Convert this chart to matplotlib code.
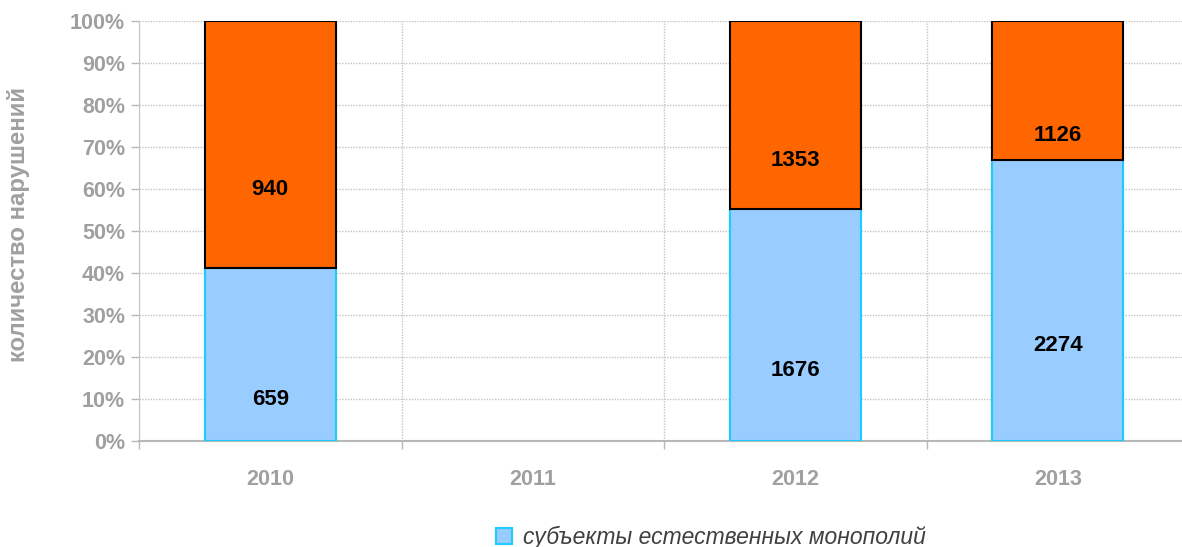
import matplotlib.pyplot as plt
from matplotlib.patches import Patch
from matplotlib.ticker import FixedLocator, PercentFormatter

plt.rcParams["font.family"] = ["Liberation Sans", "DejaVu Sans"]

years = ["2010", "2011", "2012", "2013"]
monopolies = [659, 0, 1676, 2274]
others = [940, 0, 1353, 1126]
legend_label = "субъекты естественных монополий"
y_label = "количество нарушений"

grey = "#A0A0A0"
blue = "#99CCFF"
blue_edge = "#1ACCFF"
orange = "#FF6600"

totals = [a + b for a, b in zip(monopolies, others)]
share_blue = [a / t * 100 if t else 0 for a, t in zip(monopolies, totals)]
share_orange = [b / t * 100 if t else 0 for b, t in zip(others, totals)]

fig = plt.figure(figsize=(11.82, 5.47), dpi=100)
ax = fig.add_axes([139 / 1182, 106 / 547, 1050 / 1182, 420 / 547])

x = list(range(len(years)))
for i in x:
    if totals[i] == 0:
        continue
    ax.bar(i, share_blue[i], width=0.5, color=blue, edgecolor=blue_edge,
           linewidth=1.5, zorder=3)
    ax.bar(i, share_orange[i], width=0.5, bottom=share_blue[i], color=orange,
           edgecolor="black", linewidth=1.5, zorder=3)
    # labels sit a bit below the segment centre, as in the original
    ax.text(i, share_blue[i] / 2 - 10.8, str(monopolies[i]), ha="center",
            va="center", fontsize=16, fontweight="bold", color="black", zorder=4)
    ax.text(i, share_blue[i] + share_orange[i] / 2 - 10.8, str(others[i]),
            ha="center", va="center", fontsize=16, fontweight="bold",
            color="black", zorder=4)

ax.set_xlim(-0.5, len(years) - 0.5)
ax.set_ylim(0, 100)
ax.yaxis.set_major_locator(FixedLocator(range(0, 101, 10)))
ax.yaxis.set_major_formatter(PercentFormatter(decimals=0))

ax.set_xticks(x)
ax.set_xticklabels(years)
ax.set_xticks([i - 0.5 for i in x], minor=True)

ax.tick_params(axis="x", which="major", length=0, pad=20, labelsize=15.5,
               labelcolor=grey)
ax.tick_params(axis="x", which="minor", length=6, color="#B8B8B8", width=1)
ax.tick_params(axis="y", length=6, color="#B8B8B8", width=1, pad=4,
               labelsize=15.5, labelcolor=grey)
for lbl in ax.get_xticklabels() + ax.get_yticklabels():
    lbl.set_fontweight("bold")

ax.grid(axis="y", which="major", color="#C4C4C4", linestyle=(0, (1, 1)),
        linewidth=1, zorder=0)
ax.grid(axis="x", which="minor", color="#C4C4C4", linestyle=(0, (1, 1)),
        linewidth=1, zorder=0)

for side in ["top", "right"]:
    ax.spines[side].set_visible(False)
ax.spines["left"].set_color("#C4C4C4")
ax.spines["left"].set_linestyle((0, (1, 1)))
ax.spines["bottom"].set_color("#B8B8B8")
ax.spines["bottom"].set_linestyle((0, (1, 1)))
ax.spines["bottom"].set_linewidth(1.5)

fig.text(19 / 1182, (547 - 225) / 547, y_label, rotation=90, ha="center",
         va="center", fontsize=17.3, fontweight="bold", color=grey)

handle = Patch(facecolor=blue, edgecolor=blue_edge, linewidth=1.5)
fig.legend([handle], [legend_label], loc="center",
           bbox_to_anchor=(711 / 1182, 10 / 547), frameon=False,
           handlelength=0.7, handleheight=0.7, handletextpad=0.45,
           prop={"size": 16.5, "style": "italic"}, labelcolor="#404040")

fig.savefig("out.png", dpi=100)
